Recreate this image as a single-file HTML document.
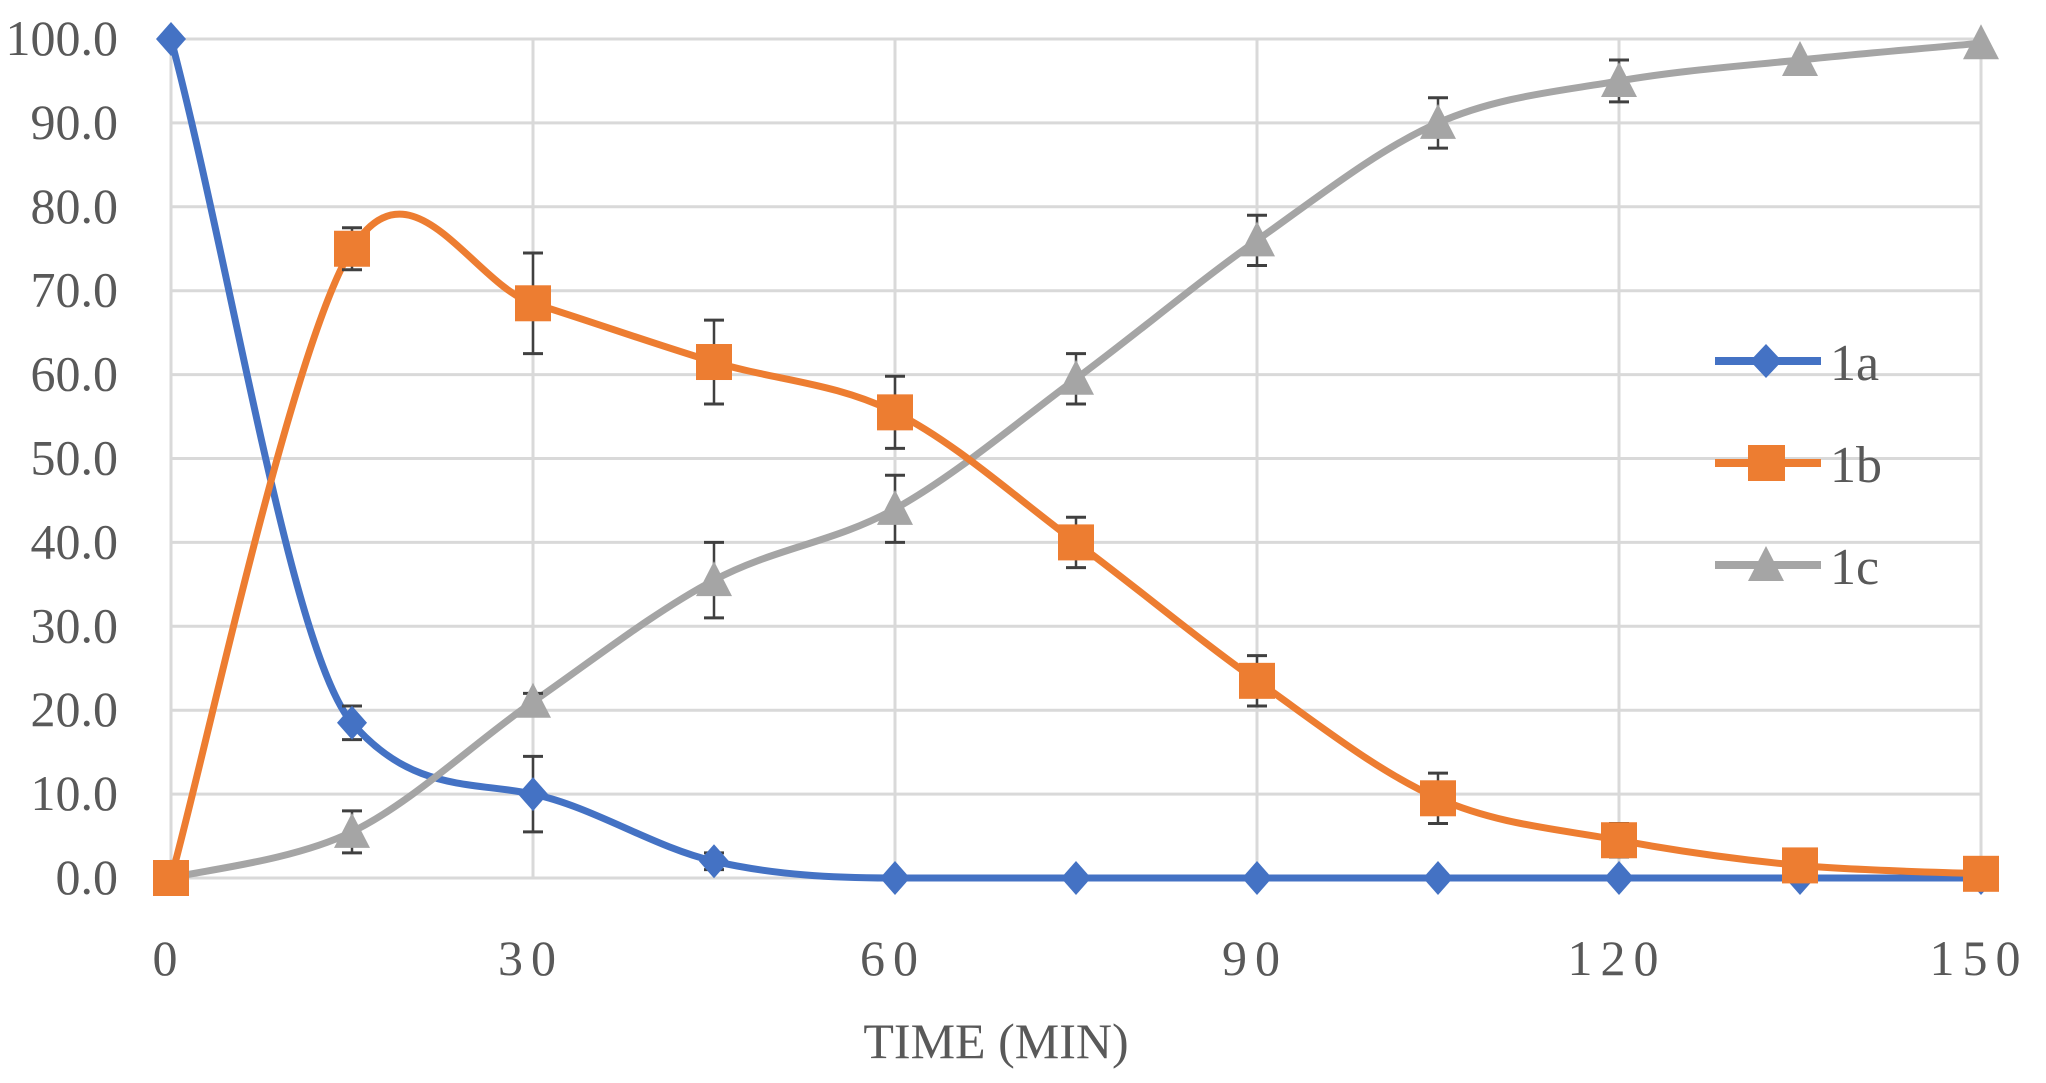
<!DOCTYPE html>
<html><head><meta charset="utf-8"><style>
html,body{margin:0;padding:0;background:#fff;}
svg{display:block;}
text{font-family:"Liberation Serif",serif;fill:#595959;}
</style></head><body>
<svg id="s" width="2046" height="1083" viewBox="0 0 2046 1083" xmlns="http://www.w3.org/2000/svg">
<g id="grid" stroke="#d9d9d9" stroke-width="3"></g>
<g id="labels"></g>
<g id="series"></g>
<text x="996" y="1058" font-size="50" text-anchor="middle">TIME (MIN)</text>
<g>
<line x1="1715" y1="361" x2="1821" y2="361" stroke="#4472c4" stroke-width="8"/>
<polygon points="1766,344 1782,361 1766,378 1750,361" fill="#4472c4"/>
<text x="1830" y="380" font-size="52">1a</text>
<line x1="1715" y1="463" x2="1821" y2="463" stroke="#ed7d31" stroke-width="8"/>
<rect x="1748" y="445" width="37" height="36" fill="#ed7d31"/>
<text x="1830" y="482" font-size="52">1b</text>
<line x1="1715" y1="565" x2="1821" y2="565" stroke="#a5a5a5" stroke-width="8"/>
<polygon points="1766,546 1784,581 1748,581" fill="#a5a5a5"/>
<text x="1830" y="584" font-size="52">1c</text>
</g>
</svg>
<script>
var NS="http://www.w3.org/2000/svg";
function X(t){return 171+t*(1810/150);}
function Y(v){return 878-v*8.39;}
function el(tag,a,p){var e=document.createElementNS(NS,tag);for(var k in a)e.setAttribute(k,a[k]);p.appendChild(e);return e;}
var g=document.getElementById('grid'),L=document.getElementById('labels'),S=document.getElementById('series');
for(var v=0;v<=100;v+=10){el('line',{x1:171,x2:1981,y1:Y(v),y2:Y(v)},g);
 var t=el('text',{x:118,y:Y(v)+16,'font-size':50,'text-anchor':'end'},L);t.textContent=v.toFixed(1);}
for(var m=0;m<=150;m+=30){el('line',{x1:X(m),x2:X(m),y1:Y(100),y2:Y(0)},g);
 var t=el('text',{x:X(m)-2,y:975,'font-size':50,'text-anchor':'middle','letter-spacing':'8'},L);t.textContent=m;}
var xs=[0,15,30,45,60,75,90,105,120,135,150];
var data=[
 {c:'#4472c4',m:'d',mono:true,v:[100,18.5,10,2,0,0,0,0,0,0,0],e:[0,2,4.5,1,0,0,0,0,0,0,0]},
 {c:'#a5a5a5',m:'t',v:[0,5.5,21,35.5,44,59.5,76,90,95,97.5,99.5],e:[0,2.5,1,4.5,4,3,3,3,2.5,0,0]},
 {c:'#ed7d31',m:'s',v:[0,75,68.5,61.5,55.5,40,23.5,9.5,4.5,1.5,0.5],e:[0,2.5,6,5,4.3,3,3,3,2,0,0]}
];
function path(p){var d='M'+p[0][0]+','+p[0][1];
 for(var i=0;i<p.length-1;i++){var p0=p[i-1]||p[i],p1=p[i],p2=p[i+1],p3=p[i+2]||p[i+1];
  var c1=[p1[0]+(p2[0]-p0[0])/6,p1[1]+(p2[1]-p0[1])/6],c2=[p2[0]-(p3[0]-p1[0])/6,p2[1]-(p3[1]-p1[1])/6];
  d+=' C'+c1+' '+c2+' '+p2;}return d;}
function mono(p){var n=p.length,dl=[],m=[];
 for(var i=0;i<n-1;i++)dl.push((p[i+1][1]-p[i][1])/(p[i+1][0]-p[i][0]));
 m[0]=dl[0];m[n-1]=dl[n-2];
 for(var i=1;i<n-1;i++){m[i]=(dl[i-1]*dl[i]<=0)?0:(dl[i-1]+dl[i])/2;}
 for(var i=0;i<n-1;i++){if(dl[i]==0){m[i]=0;m[i+1]=0;continue;}
  var a=m[i]/dl[i],b=m[i+1]/dl[i],s=a*a+b*b;if(s>9){var t=3/Math.sqrt(s);m[i]=t*a*dl[i];m[i+1]=t*b*dl[i];}}
 var d='M'+p[0][0]+','+p[0][1];
 for(var i=0;i<n-1;i++){var h=(p[i+1][0]-p[i][0])/3;
  d+=' C'+(p[i][0]+h)+','+(p[i][1]+m[i]*h)+' '+(p[i+1][0]-h)+','+(p[i+1][1]-m[i+1]*h)+' '+p[i+1][0]+','+p[i+1][1];}
 return d;}
data.forEach(function(s){var pts=xs.map(function(x,i){return [X(x),Y(s.v[i])];});
 el('path',{d:s.mono?mono(pts):path(pts),fill:'none',stroke:s.c,'stroke-width':7,'stroke-linejoin':'round'},S);});
data.forEach(function(s){xs.forEach(function(x,i){var cx=X(x),cy=Y(s.v[i]);
 if(s.e[i]>0){var t=Y(s.v[i]+s.e[i]),b=Y(s.v[i]-s.e[i]);
  el('line',{x1:cx,x2:cx,y1:t,y2:b,stroke:'#404040','stroke-width':2.5},S);
  el('line',{x1:cx-10,x2:cx+10,y1:t,y2:t,stroke:'#404040','stroke-width':3},S);
  el('line',{x1:cx-10,x2:cx+10,y1:b,y2:b,stroke:'#404040','stroke-width':3},S);}
 if(s.m=='d')el('polygon',{points:[cx,cy-17,cx+15,cy,cx,cy+17,cx-15,cy].join(' '),fill:s.c},S);
 else if(s.m=='s')el('rect',{x:cx-18,y:cy-18,width:36,height:36,fill:s.c},S);
 else el('polygon',{points:[cx,cy-19,cx+18,cy+16,cx-18,cy+16].join(' '),fill:s.c},S);
});});
</script>
</body></html>
